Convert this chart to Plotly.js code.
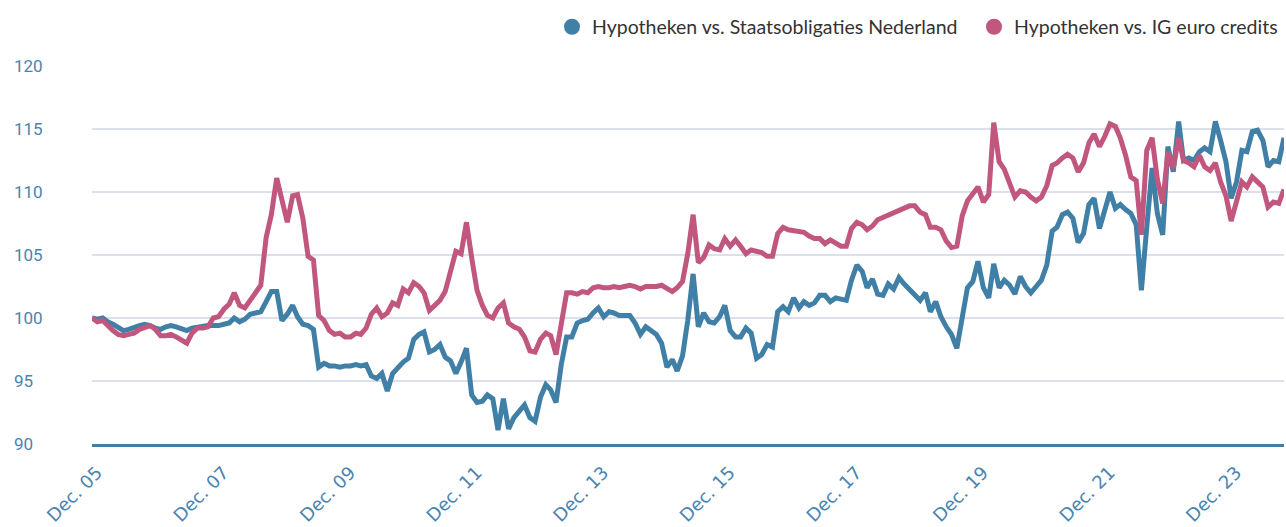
<!DOCTYPE html>
<html>
<head>
<meta charset="utf-8">
<script src="https://cdn.plot.ly/plotly-3.0.1.min.js"></script>
<style>
html,body{margin:0;padding:0;background:#fff;}
#chart{width:1286px;height:527px;}
</style>
</head>
<body>
<div id="chart"></div>
<script>
// Monthly observations, starting December 2005
const startYear = 2005, startMonth = 12;

const seriesNames = ["Hypotheken vs. Staatsobligaties Nederland", "Hypotheken vs. IG euro credits"];

const staatsobligaties = [
100.0,99.9,100.0,99.7,99.5,99.2,99.0,99.1,99.2,99.4,99.5,99.4,99.2,99.1,99.3,99.4,99.3,99.1,99.0,99.2,
99.3,99.4,99.4,99.4,99.4,99.5,99.6,100.0,99.7,99.9,100.3,100.4,100.5,101.3,102.1,102.1,99.8,100.3,101.0,100.1,
99.5,99.4,99.1,96.1,96.4,96.2,96.2,96.1,96.2,96.2,96.3,96.2,96.3,95.4,95.2,95.6,94.2,95.6,96.1,96.5,
96.8,98.3,98.7,98.9,97.3,97.5,97.9,96.9,96.6,95.6,96.5,97.6,93.9,93.3,93.4,93.9,93.6,91.1,93.6,91.2,
92.1,92.6,93.1,92.1,91.8,93.7,94.7,94.3,93.3,96.3,98.5,98.5,99.6,99.8,99.9,100.4,100.8,100.1,100.5,100.4,
100.2,100.2,100.2,99.6,98.7,99.3,99.0,98.7,98.0,96.1,96.7,95.8,97.0,99.8,103.5,99.3,100.4,99.7,99.6,100.1,
101.0,99.0,98.5,98.5,99.2,98.8,96.8,97.1,97.9,97.7,100.5,100.9,100.5,101.6,100.8,101.3,101.0,101.2,101.8,101.8,
101.3,101.6,101.5,101.4,103.0,104.2,103.7,102.4,103.1,101.9,101.8,102.7,102.3,103.2,102.7,102.3,101.8,101.4,102.0,100.5,
101.3,100.1,99.3,98.7,97.6,100.1,102.4,102.9,104.5,102.4,101.6,104.3,102.4,103.0,102.6,101.9,103.3,102.5,102.0,102.5,
103.0,104.2,106.9,107.2,108.2,108.4,107.9,106.0,106.7,109.0,109.5,107.1,108.6,110.0,108.7,109.0,108.6,108.3,107.4,102.2,
107.2,111.9,108.3,106.6,113.6,111.6,115.6,112.5,112.7,112.5,113.2,113.5,113.2,115.6,114.1,112.4,109.5,110.8,113.3,113.2,
114.8,114.9,114.1,112.0,112.5,112.4,114.3
];

const igEuroCredits = [
100.0,99.7,99.8,99.4,99.0,98.7,98.6,98.7,98.8,99.1,99.3,99.4,99.1,98.6,98.6,98.7,98.5,98.3,98.0,98.8,
99.2,99.2,99.3,100.0,100.1,100.7,101.1,102.0,101.0,100.8,101.4,102.0,102.6,106.4,108.2,111.1,109.4,107.6,109.7,109.8,
107.9,104.9,104.6,100.2,99.8,99.0,98.7,98.8,98.5,98.5,98.8,98.7,99.2,100.3,100.8,100.1,100.4,101.2,101.0,102.3,
102.0,102.8,102.5,102.0,100.6,101.0,101.4,102.1,103.6,105.3,105.1,107.6,104.8,102.2,101.0,100.2,100.0,100.8,101.2,99.6,
99.3,99.1,98.5,97.4,97.3,98.3,98.8,98.6,97.1,99.4,102.0,102.0,101.9,102.1,102.0,102.4,102.5,102.4,102.4,102.5,
102.4,102.5,102.6,102.5,102.3,102.5,102.5,102.5,102.6,102.4,102.1,102.4,102.9,105.1,108.2,104.4,104.8,105.8,105.5,105.4,
106.3,105.7,106.2,105.7,105.1,105.4,105.3,105.2,104.9,104.9,106.7,107.2,107.0,106.9,106.9,106.8,106.5,106.3,106.3,105.9,
106.2,106.0,105.7,105.7,107.1,107.6,107.4,107.0,107.3,107.8,108.0,108.2,108.3,108.6,108.7,108.9,108.9,108.4,108.2,107.2,
107.2,107.0,106.1,105.6,105.7,108.1,109.3,109.8,110.4,109.2,109.8,115.5,112.4,111.8,110.8,109.6,110.1,110.0,109.6,109.3,
109.6,110.5,112.1,112.3,112.7,113.0,112.7,111.6,112.3,113.9,114.6,113.6,114.4,115.4,115.2,114.3,112.9,111.2,110.9,106.6,
113.3,114.3,111.0,109.1,113.2,111.9,114.3,112.5,112.3,112.0,112.9,112.0,111.7,112.3,110.8,109.7,107.7,109.3,110.8,110.4,
111.2,110.8,110.4,108.8,109.2,109.1,110.2
];

const xTickValues = ["2005-12-01","2007-12-01","2009-12-01","2011-12-01","2013-12-01","2015-12-01","2017-12-01","2019-12-01","2021-12-01","2023-12-01"];
const xTickLabels = ["Dec. 05","Dec. 07","Dec. 09","Dec. 11","Dec. 13","Dec. 15","Dec. 17","Dec. 19","Dec. 21","Dec. 23"];
const yTickValues = [90, 95, 100, 105, 110, 115, 120];
const yTickLabels = ["90", "95", "100", "105", "110", "115", "120"];

const colors = ["#407fa6", "#c1577f"];

// month dates for the observations
const dates = [];
for (let i = 0; i < staatsobligaties.length; i++) {
  const m0 = (startMonth - 1) + i;
  const y = startYear + Math.floor(m0 / 12);
  const m = (m0 % 12) + 1;
  dates.push(y + "-" + String(m).padStart(2, "0") + "-01");
}

const seriesValues = [staatsobligaties, igEuroCredits];
const legendIds = ["legend", "legend2"];
const traces = [];
seriesValues.forEach((vals, k) => {
  traces.push({
    x: dates, y: vals, type: "scatter", mode: "lines",
    line: {color: colors[k], width: 5},
    showlegend: false, hoverinfo: "x+y", name: seriesNames[k]
  });
});
seriesValues.forEach((vals, k) => {
  traces.push({
    x: [null], y: [null], type: "scatter", mode: "markers",
    marker: {color: colors[k], size: 16, symbol: "circle"},
    name: seriesNames[k], showlegend: true, legend: legendIds[k]
  });
});

const tickColor = "#4a84b0";
const annotations = yTickValues.map((v, i) => ({
  xref: "paper", yref: "y", x: 0, y: v, xanchor: "left", yanchor: "middle",
  xshift: -80, text: yTickLabels[i], showarrow: false,
  font: {family: "Roboto, sans-serif", size: 17, color: tickColor}
}));

const legendFont = {family: "Lato, sans-serif", size: 19.5, color: "#333333"};

const layout = {
  width: 1286, height: 527,
  margin: {l: 92, r: 2, t: 66, b: 83, autoexpand: false},
  paper_bgcolor: "#ffffff", plot_bgcolor: "#ffffff",
  showlegend: true,
  legend: {
    orientation: "h", x: (552 - 92) / 1192, xanchor: "left", y: 1.103, yanchor: "middle",
    font: legendFont, itemclick: false, itemdoubleclick: false
  },
  legend2: {
    orientation: "h", x: (974 - 92) / 1192, xanchor: "left", y: 1.103, yanchor: "middle",
    font: legendFont, itemclick: false, itemdoubleclick: false
  },
  xaxis: {
    type: "date", range: [dates[0], dates[dates.length - 1]],
    tickmode: "array", tickvals: xTickValues, ticktext: xTickLabels,
    tickangle: -45, showgrid: false, zeroline: false,
    showline: true, linecolor: "#407fa6", linewidth: 3,
    ticks: "", ticklabelstandoff: 8, ticklabelshift: 5,
    tickfont: {family: "DejaVu Sans, sans-serif", size: 18, color: tickColor}
  },
  yaxis: {
    range: [90, 120], tickmode: "array", tickvals: yTickValues,
    showticklabels: false, showgrid: true, gridcolor: "#dde0eb", gridwidth: 1.3,
    zeroline: false, showline: false, ticks: ""
  },
  annotations: annotations
};

Plotly.newPlot("chart", traces, layout, {displayModeBar: false, staticPlot: true});
</script>
</body>
</html>
